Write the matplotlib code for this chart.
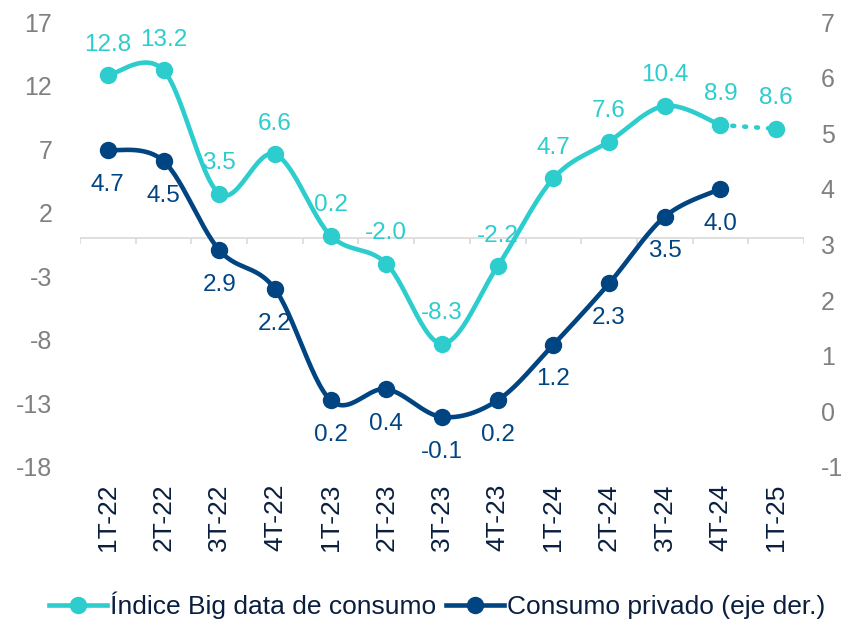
import numpy as np
import matplotlib.pyplot as plt

plt.rcParams['font.family'] = ['Liberation Sans', 'DejaVu Sans']
plt.rcParams['axes.unicode_minus'] = False

quarters = ["1T-22", "2T-22", "3T-22", "4T-22", "1T-23", "2T-23", "3T-23",
            "4T-23", "1T-24", "2T-24", "3T-24", "4T-24", "1T-25"]
big_data = [12.8, 13.2, 3.5, 6.6, 0.2, -2.0, -8.3, -2.2, 4.7, 7.6, 10.4, 8.9, 8.6]
consumo = [4.7, 4.5, 2.9, 2.2, 0.2, 0.4, -0.1, 0.2, 1.2, 2.3, 3.5, 4.0]

left_ticks = [-18, -13, -8, -3, 2, 7, 12, 17]
right_ticks = [-1, 0, 1, 2, 3, 4, 5, 6, 7]

CYAN = "#2DCCCD"
NAVY = "#004481"
GREY = "#808080"
DARK = "#0A1F3F"


def smooth(x, y, n=30):
    # catmull-rom style smoothing, like excel's "smoothed line"
    x = np.asarray(x, float)
    y = np.asarray(y, float)
    px = np.concatenate([[x[0]], x, [x[-1]]])
    py = np.concatenate([[y[0]], y, [y[-1]]])
    xs, ys = [], []
    t = np.linspace(0, 1, n)
    for i in range(1, len(px) - 2):
        for p, out in ((px, xs), (py, ys)):
            p0, p1, p2, p3 = p[i - 1], p[i], p[i + 1], p[i + 2]
            out.append(0.5 * (2 * p1 + (-p0 + p2) * t
                              + (2 * p0 - 5 * p1 + 4 * p2 - p3) * t ** 2
                              + (-p0 + 3 * p1 - 3 * p2 + p3) * t ** 3))
    return np.concatenate(xs), np.concatenate(ys)


fig = plt.figure(figsize=(8.43, 6.23), dpi=100)
ax = fig.add_axes([80 / 843, 156 / 623, 724 / 843, 445 / 623])
ax2 = ax.twinx()

x = np.arange(len(quarters))
xc = x[:len(consumo)]

# axis line at zero with tick marks between categories
ax.axhline(0, color="#D9D9D9", lw=1.2, zorder=1)
ax.vlines(np.arange(-0.5, len(quarters)), -0.45, 0, color="#D9D9D9", lw=1.2, zorder=1)

sx, sy = smooth(x[:-1], big_data[:-1])
ax.plot(sx, sy, color=CYAN, lw=3.3, zorder=3, solid_capstyle="round")
ax.plot(x[-2:], big_data[-2:], color=CYAN, lw=3.3, ls=(0, (0.4, 2.2)),
        dash_capstyle="round", zorder=3)
ax.plot(x, big_data, "o", color=CYAN, ms=11.5, zorder=4)

sx, sy = smooth(xc, consumo)
ax2.plot(sx, sy, color=NAVY, lw=3.3, zorder=3, solid_capstyle="round")
ax2.plot(xc, consumo, "o", color=NAVY, ms=11.5, zorder=4)

for xi, v in zip(x, big_data):
    ax.annotate(f"{v:.1f}", (xi, v), xytext=(0, 22), textcoords="offset points",
                ha="center", va="center", fontsize=17.5, color=CYAN)
for xi, v in zip(xc, consumo):
    ax2.annotate(f"{v:.1f}", (xi, v), xytext=(0, -25), textcoords="offset points",
                 ha="center", va="center", fontsize=17.5, color=NAVY)

ax.set_xlim(-0.5, len(quarters) - 0.5)
ax.set_ylim(-18, 17)
ax2.set_ylim(-1, 7)
ax.set_yticks(left_ticks)
ax2.set_yticks(right_ticks)
ax.set_xticks(x)
ax.set_xticklabels(quarters, rotation=90, fontsize=19)

ax.tick_params(axis="x", length=0, pad=12, labelcolor=DARK)
ax.tick_params(axis="y", length=0, pad=20, labelsize=18, labelcolor=GREY)
ax2.tick_params(axis="y", length=0, pad=12, labelsize=18, labelcolor=GREY)

for a in (ax, ax2):
    for s in a.spines.values():
        s.set_visible(False)

h1, = ax.plot([], [], "-o", color=CYAN, lw=3.3, ms=11.5)
h2, = ax.plot([], [], "-o", color=NAVY, lw=3.3, ms=11.5)
fig.legend([h1, h2], ["Índice Big data de consumo", "Consumo privado (eje der.)"],
           loc="center", bbox_to_anchor=(437 / 843, 18 / 623), ncol=2, frameon=False,
           fontsize=19, handlelength=2.2, handletextpad=0.1, columnspacing=0.4,
           labelcolor=DARK)

fig.savefig("out.png", dpi=100)
